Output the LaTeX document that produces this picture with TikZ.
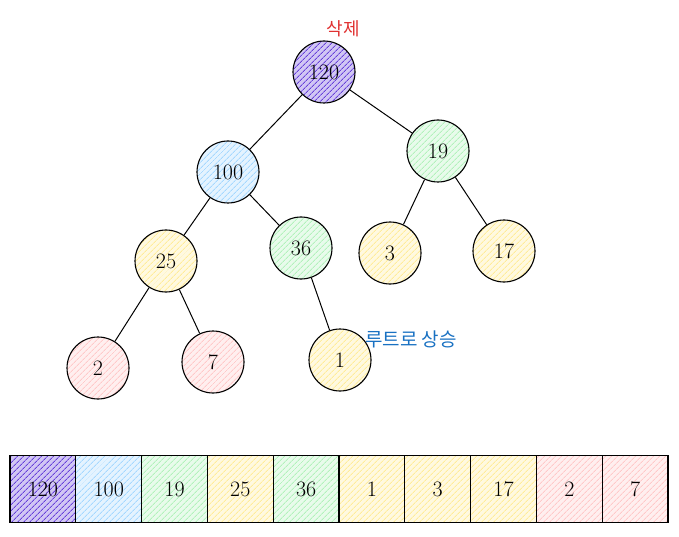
\documentclass[tikz,border=0pt]{standalone}
\usepackage{fontspec}
\newfontfamily\kofont{Noto Sans CJK KR}
\usetikzlibrary{patterns.meta}

\definecolor{hpurple}{HTML}{6741D9}
\definecolor{hblue}{HTML}{A5D8FF}
\definecolor{hgreen}{HTML}{B2F2BB}
\definecolor{hyellow}{HTML}{FFEC99}
\definecolor{hred}{HTML}{FFC9C9}
\definecolor{delred}{HTML}{E03131}
\definecolor{upblue}{HTML}{1971C2}

\begin{document}
\begin{tikzpicture}[x=1pt, y=-1pt, font=\fontsize{22}{25}\selectfont,
  hatch/.style={preaction={fill=#1!30}, pattern={Lines[angle=45,distance=4pt,line width=0.9pt]}, pattern color=#1},
  heapnode/.style={draw, circle, line width=1.1pt, minimum size=62pt, inner sep=0pt, hatch=#1},
  cell/.style={draw, line width=1.1pt, minimum width=65.8pt, minimum height=67pt, inner sep=0pt, hatch=#1},
  edge/.style={line width=1pt}]
\useasboundingbox (0,0) rectangle (679,537);

% heap tree
\node[heapnode=hpurple] (n120) at (324,72) {120};
\node[heapnode=hblue] (n100) at (228,172) {100};
\node[heapnode=hgreen] (n19) at (438,151) {19};
\node[heapnode=hyellow] (n25) at (166,261) {25};
\node[heapnode=hgreen] (n36) at (301,248) {36};
\node[heapnode=hyellow] (n3) at (390,253) {3};
\node[heapnode=hyellow] (n17) at (504,251) {17};
\node[heapnode=hred] (n2) at (98,368) {2};
\node[heapnode=hred] (n7) at (213,362) {7};
\node[heapnode=hyellow] (n1) at (340,360) {1};

\draw[edge] (n120) -- (n100);
\draw[edge] (n120) -- (n19);
\draw[edge] (n100) -- (n25);
\draw[edge] (n100) -- (n36);
\draw[edge] (n19) -- (n3);
\draw[edge] (n19) -- (n17);
\draw[edge] (n25) -- (n2);
\draw[edge] (n25) -- (n7);
\draw[edge] (n36) -- (n1);

% notes
\node[text=delred, font=\kofont\fontsize{18}{21}\selectfont] (del) at (343,29) {삭제};
\node[text=upblue, font=\kofont\fontsize{19}{22}\selectfont] (up) at (411,339) {루트로 상승};

% array
\foreach \v/\c [count=\i] in {120/hpurple,100/hblue,19/hgreen,25/hyellow,36/hgreen,1/hyellow,3/hyellow,17/hyellow,2/hred,7/hred}
  \node[cell=\c] (a\i) at ({10+65.8*(\i-0.5)},489) {\v};
\end{tikzpicture}
\end{document}
